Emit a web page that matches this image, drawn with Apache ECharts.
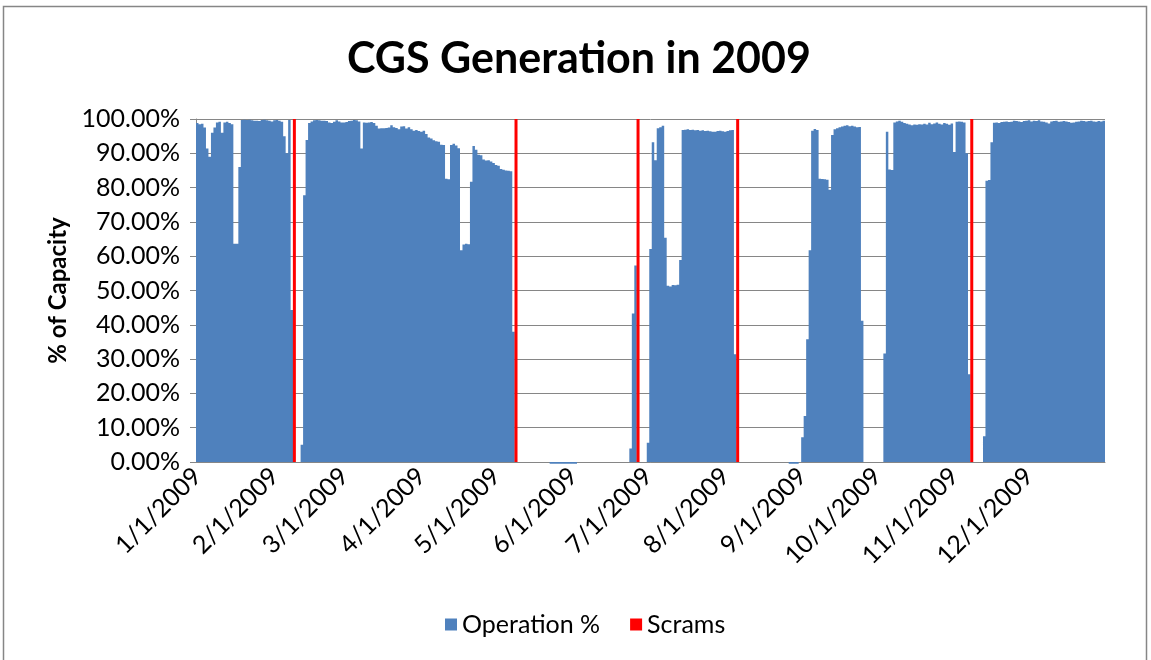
<!DOCTYPE html>
<html>
<head>
<meta charset="utf-8">
<title>CGS Generation in 2009</title>
<script src="https://cdn.jsdelivr.net/npm/echarts@6/dist/echarts.min.js"></script>
<style>
    html, body { margin: 0; padding: 0; background: #fff; }
    #chart { width: 1151px; height: 660px; }
</style>
</head>
<body>
<div id="chart"></div>
<script>
// days per month in 2009, used to build the daily category labels
const monthDays = [31, 28, 31, 30, 31, 30, 31, 31, 30, 31, 30, 31];

// daily operation % (Jan 1 .. Dec 31)
const operation = [
    // Jan
    98.8, 98.5, 98.6, 97.5, 91.4, 89.0, 96.0, 97.5, 99.0, 99.2, 96.0, 99.0, 99.2, 98.8, 98.5, 63.6,
    63.6, 86.0, 99.7, 99.8, 99.7, 99.8, 99.6, 99.5, 99.5, 99.4, 99.7, 99.8, 99.6, 99.5, 99.3,
    // Feb
    99.6, 99.7, 99.5, 99.2, 95.0, 90.0, 99.7, 44.3, 0, 0, 0, 5.0, 77.8, 93.9, 98.8, 99.3,
    99.6, 99.7, 99.6, 99.5, 99.5, 99.4, 99.0, 98.8, 99.2, 99.6, 99.3, 99.0,
    // Mar
    99.0, 99.1, 99.4, 99.5, 99.7, 99.6, 99.3, 91.4, 99.0, 98.9, 99.0, 99.1, 98.8, 98.0, 97.2, 97.3,
    97.3, 97.4, 97.5, 98.2, 97.6, 97.4, 97.0, 97.8, 97.9, 97.2, 97.6, 97.0, 96.6, 96.8, 96.5,
    // Apr
    96.3, 96.6, 95.6, 94.6, 94.3, 93.8, 93.5, 93.4, 92.5, 92.4, 82.6, 82.4, 92.4, 92.8, 92.3,
    91.5, 61.7, 63.4, 63.6, 63.5, 81.7, 92.1, 91.0, 89.6, 89.4, 88.2, 87.9, 88.0, 87.6, 87.2,
    // May
    86.6, 86.4, 85.4, 85.2, 85.0, 84.9, 84.8, 38.0, 0, 0, 0, 0, 0, 0, 0, 0,
    0, 0, 0, 0, 0, 0, -0.5, -0.5, -0.5, -0.5, -0.5, -0.5, -0.5, -0.5, -0.5,
    // Jun
    -0.5, -0.5, 0, 0, 0, 0, 0, 0, 0, 0, 0, 0, 0, 0, 0,
    0, 0, 0, 0, 0, 0, 0, 0, 3.9, 43.3, 57.3, 0, 0, 0, 0,
    // Jul
    5.6, 62.1, 93.2, 88.0, 97.3, 97.6, 98.0, 65.4, 51.4, 51.2, 51.6, 51.5, 51.7, 58.9, 96.8, 96.9,
    97.0, 96.8, 96.9, 96.7, 96.8, 96.6, 96.7, 96.5, 96.6, 96.4, 96.3, 96.3, 96.5, 96.6, 96.4,
    // Aug
    96.3, 96.5, 96.7, 96.8, 31.4, 0, 0, 0, 0, 0, 0, 0, 0, 0, 0, 0,
    0, 0, 0, 0, 0, 0, 0, 0, 0, 0, -0.5, -0.5, -0.5, -0.5, 0,
    // Sep
    7.2, 13.4, 35.8, 61.7, 96.6, 97.1, 96.8, 82.6, 82.5, 82.4, 82.3, 79.4, 95.3, 97.0, 97.3,
    97.6, 97.8, 98.0, 98.2, 97.9, 98.0, 97.8, 97.6, 97.7, 41.2, 0, 0, 0, 0, 0,
    // Oct
    0, 0, 0, 31.6, 96.3, 85.3, 85.1, 99.0, 99.3, 99.5, 99.2, 98.8, 98.6, 98.4, 98.2, 98.4,
    98.3, 98.5, 98.4, 98.6, 98.4, 98.9, 98.5, 98.7, 99.0, 98.6, 98.4, 98.8, 98.6, 98.3, 98.7,
    // Nov
    90.4, 99.2, 99.3, 99.2, 99.0, 90.0, 25.6, 0, 0, 0, 0, 0, 7.5, 82.0, 82.2,
    93.2, 98.9, 99.0, 98.8, 99.1, 99.2, 99.3, 99.1, 99.2, 99.5, 99.4, 99.3, 99.1, 99.4, 99.5,
    // Dec
    99.6, 99.3, 99.5, 99.4, 99.6, 99.3, 99.2, 99.0, 98.7, 99.3, 99.4, 99.5, 99.2, 99.3, 99.4, 99.3,
    99.1, 98.9, 99.0, 99.2, 99.3, 99.5, 99.4, 99.3, 99.4, 99.5, 99.3, 99.2, 99.4, 99.3, 99.5
];

// scram dates, drawn as full-height red bars
const scramDates = ['2/9/2009', '5/9/2009', '6/27/2009', '8/6/2009', '11/8/2009'];

const days = [];
monthDays.forEach((n, m) => {
    for (let d = 1; d <= n; d++) {
        days.push(`${m + 1}/${d}/2009`);
    }
});

const isMonthStart = (idx, value) => value.split('/')[1] === '1';
const font = 'Lato, "Open Sans", sans-serif';
const gridColor = '#868686';

const chart = echarts.init(document.getElementById('chart'));
chart.setOption({
    animation: false,
    backgroundColor: '#fff',
    textStyle: { fontFamily: font },
    title: {
        text: 'CGS Generation in 2009',
        left: 342,
        top: 33,
        textStyle: { fontSize: 43, fontWeight: 'bold', color: '#000', fontFamily: font }
    },
    legend: {
        bottom: 18,
        left: 440,
        icon: 'rect',
        itemWidth: 12,
        itemHeight: 12,
        itemGap: 30,
        textStyle: { fontSize: 25, color: '#000', fontFamily: font },
        data: ['Operation %', 'Scrams']
    },
    grid: { left: 196, right: 46, top: 119, bottom: 198 },
    xAxis: [
        {
            type: 'category',
            data: days,
            boundaryGap: true,
            axisLine: { lineStyle: { color: gridColor, width: 1 } },
            axisTick: { interval: isMonthStart, length: 7, lineStyle: { color: gridColor } },
            axisLabel: {
                interval: isMonthStart,
                rotate: 45,
                margin: 10,
                fontSize: 25,
                color: '#000',
                fontFamily: font
            },
            splitLine: { show: false }
        },
        {
            type: 'category',
            data: days,
            show: false
        }
    ],
    yAxis: {
        type: 'value',
        min: 0,
        max: 100,
        interval: 10,
        name: '% of Capacity',
        nameLocation: 'middle',
        nameRotate: 90,
        nameGap: 124,
        nameTextStyle: { fontSize: 24, fontWeight: 'bold', color: '#000', fontFamily: font },
        axisLine: { show: true, lineStyle: { color: gridColor, width: 1 } },
        axisTick: { show: true, length: 6, lineStyle: { color: gridColor } },
        axisLabel: {
            margin: 16,
            fontSize: 25,
            color: '#000',
            fontFamily: font,
            formatter: v => v.toFixed(2) + '%'
        },
        splitLine: { lineStyle: { color: gridColor, width: 1 } }
    },
    series: [
        {
            // large mode fills all days as one path, so no seams between bars
            name: 'Operation %',
            type: 'bar',
            data: operation,
            barCategoryGap: '0%',
            large: true,
            largeThreshold: 1,
            clip: false,
            itemStyle: { color: '#4F81BD' }
        },
        {
            name: 'Scrams',
            type: 'bar',
            xAxisIndex: 1,
            data: scramDates.map(d => [d, 100]),
            barWidth: 3,
            itemStyle: { color: '#FF0000' }
        }
    ],
    graphic: [
        {
            type: 'rect',
            shape: { x: 3.5, y: 6.5, width: 1143, height: 700 },
            style: { fill: 'none', stroke: '#868686', lineWidth: 1.5 },
            silent: true
        }
    ]
});
</script>
</body>
</html>
